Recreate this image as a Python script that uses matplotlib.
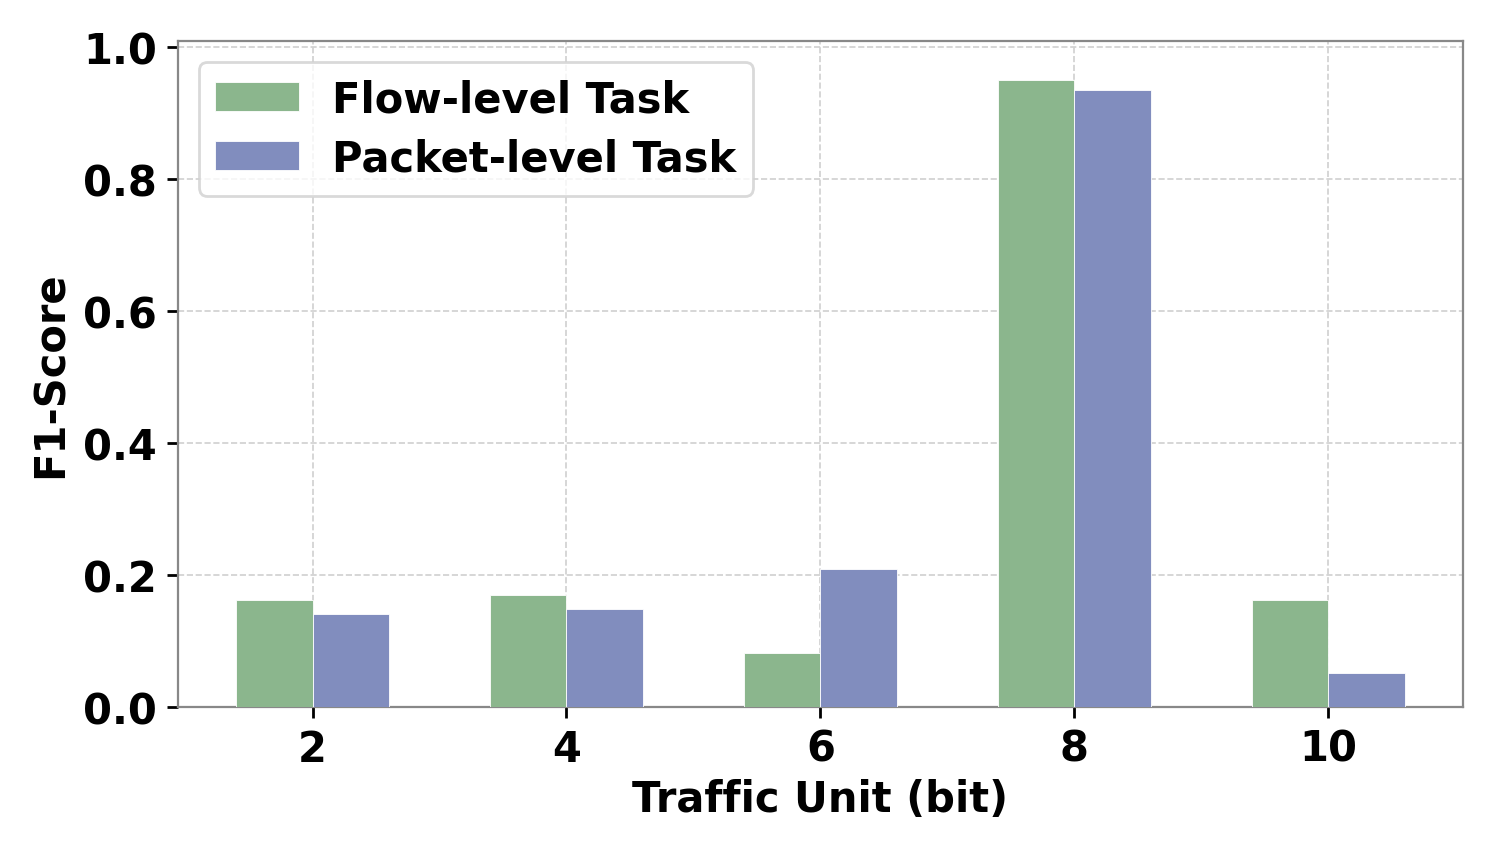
import matplotlib.pyplot as plt
import numpy as np

# данные
units = [2, 4, 6, 8, 10]
flow_f1 = [0.162, 0.170, 0.082, 0.950, 0.162]
packet_f1 = [0.141, 0.148, 0.209, 0.935, 0.052]

plt.rcParams['font.family'] = 'DejaVu Sans'
plt.rcParams['font.weight'] = 'bold'

fig, ax = plt.subplots(figsize=(7.475, 4.27), dpi=200)
fig.subplots_adjust(left=0.119, right=0.9786, top=0.951, bottom=0.171)

x = np.array(units, dtype=float)
w = 0.6
ax.bar(x - w / 2, flow_f1, width=w, color='#8bb68d', edgecolor='white',
       linewidth=0.3, label='Flow-level Task', zorder=3)
ax.bar(x + w / 2, packet_f1, width=w, color='#818dbe', edgecolor='white',
       linewidth=0.3, label='Packet-level Task', zorder=3)

ax.set_ylim(0, 1.01)
ax.set_xticks(units)
ax.set_xticklabels([str(u) for u in units])
ax.set_yticks([0.0, 0.2, 0.4, 0.6, 0.8, 1.0])

ax.grid(True, linestyle='--', color='#d0d0d0', linewidth=0.6, zorder=0)
ax.set_axisbelow(True)
for s in ax.spines.values():
    s.set_color('#888888')
    s.set_linewidth(0.8)

ax.tick_params(axis='both', labelsize=15, length=4, width=1, colors='black')
for lbl in ax.get_xticklabels() + ax.get_yticklabels():
    lbl.set_fontweight('bold')

ax.set_xlabel('Traffic Unit (bit)', fontsize=15, fontweight='bold', labelpad=3)
ax.set_ylabel('F1-Score', fontsize=15, fontweight='bold')

leg = ax.legend(loc='upper left', frameon=True, fancybox=True, labelspacing=0.4,
                prop={'weight': 'bold', 'size': 15})
leg.get_frame().set_edgecolor('#d0d0d0')
leg.get_frame().set_linewidth(1.0)

plt.savefig('out.png', dpi=200)
